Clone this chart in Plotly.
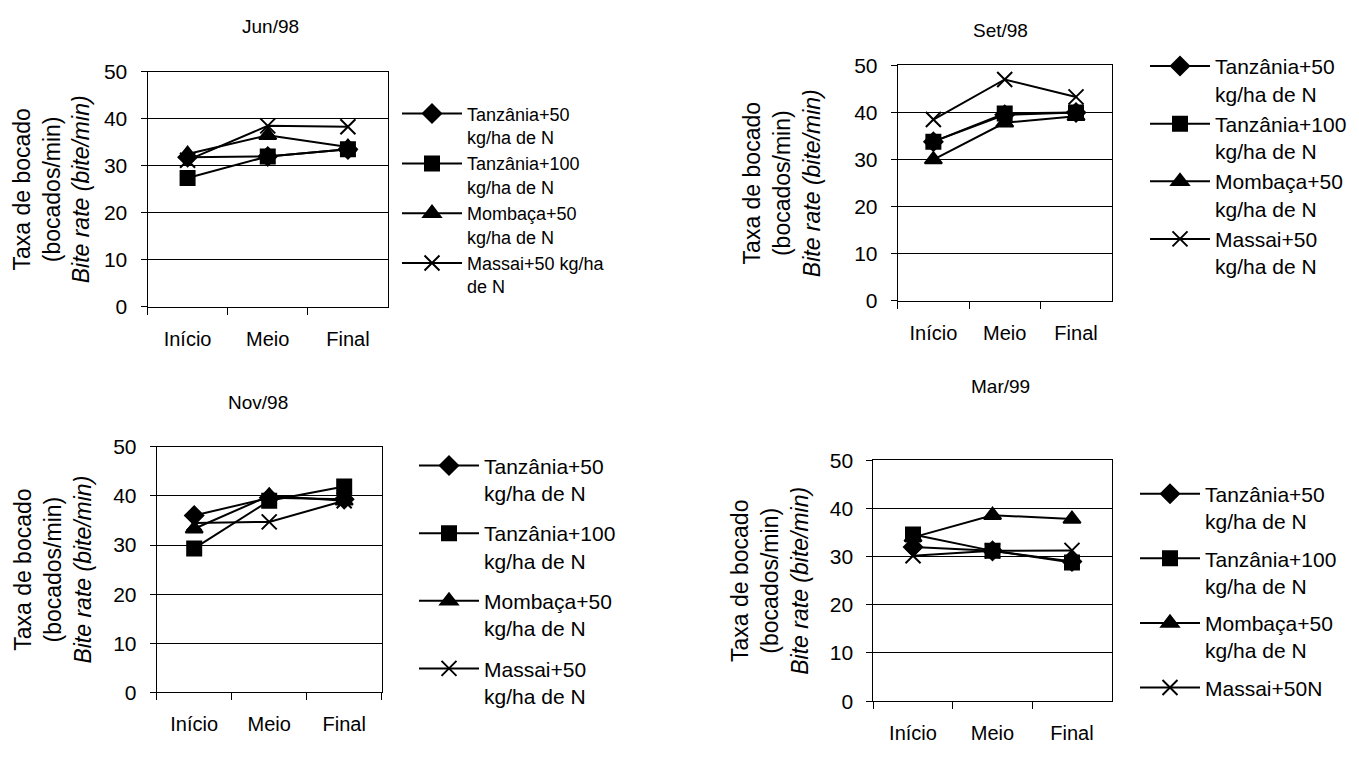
import plotly.graph_objects as go

categories = ["Início", "Meio", "Final"]
series_names = ["Tanzânia+50<br>kg/ha de N", "Tanzânia+100<br>kg/ha de N",
                "Mombaça+50<br>kg/ha de N", "Massai+50<br>kg/ha de N"]
series_names_jun = ["Tanzânia+50<br>kg/ha de N", "Tanzânia+100<br>kg/ha de N",
                    "Mombaça+50<br>kg/ha de N", "Massai+50 kg/ha<br>de N"]
series_names_mar = ["Tanzânia+50<br>kg/ha de N", "Tanzânia+100<br>kg/ha de N",
                    "Mombaça+50<br>kg/ha de N", "Massai+50N"]
panel_titles = ["Jun/98", "Set/98", "Nov/98", "Mar/99"]

jun_t50 = [31.8, 32.0, 33.5]
jun_t100 = [27.4, 32.0, 33.5]
jun_m50 = [32.5, 36.5, 34.0]
jun_ms50 = [31.2, 38.5, 38.3]

set_t50 = [33.8, 39.5, 40.0]
set_t100 = [33.8, 39.8, 40.0]
set_m50 = [30.0, 37.8, 39.2]
set_ms50 = [38.5, 47.0, 43.3]

nov_t50 = [36.0, 39.6, 39.3]
nov_t100 = [29.3, 39.0, 41.9]
nov_m50 = [33.3, 40.0, 39.0]
nov_ms50 = [34.5, 34.7, 39.0]

mar_t50 = [32.0, 31.2, 29.0]
mar_t100 = [34.6, 31.2, 28.8]
mar_m50 = [34.0, 38.6, 37.8]
mar_ms50 = [30.2, 31.2, 31.3]

y_ticks = [0, 10, 20, 30, 40, 50]

FONT = "Liberation Sans, Arial, sans-serif"
W, H = 1359, 759

def px_x(a, b):
    return [a / W, b / W]

def px_y(top, bottom):
    return [1 - bottom / H, 1 - top / H]

panels = [
    dict(data=[jun_t50, jun_t100, jun_m50, jun_ms50], names=series_names_jun,
         xd=px_x(147.5, 388), yd=px_y(61.7, 304),
         title_xy=(270, 15), ytitle_x=52,
         leg=dict(x=397, y=86, font=18, gap=0)),
    dict(data=[set_t50, set_t100, set_m50, set_ms50], names=series_names,
         xd=px_x(897.7, 1111.7), yd=px_y(55, 298),
         title_xy=(1000, 19), ytitle_x=782,
         leg=dict(x=1145, y=35, font=21, gap=0)),
    dict(data=[nov_t50, nov_t100, nov_m50, nov_ms50], names=series_names,
         xd=px_x(156.7, 381.7), yd=px_y(448.3, 701.7),
         title_xy=(258, 403), ytitle_x=53,
         leg=dict(x=414, y=447, font=21, gap=10)),
    dict(data=[mar_t50, mar_t100, mar_m50, mar_ms50], names=series_names_mar,
         xd=px_x(873.3, 1111.7), yd=px_y(462.3, 710.7),
         title_xy=(1000, 386), ytitle_x=770,
         leg=dict(x=1135, y=476, font=21, gap=7)),
]

symbols = ["diamond", "square", "triangle-up", "x-thin"]
sizes = [14, 14, 15, 15]

fig = go.Figure()
layout = dict(
    width=W, height=H,
    margin=dict(l=0, r=0, t=0, b=0),
    paper_bgcolor="white", plot_bgcolor="white",
    font=dict(family=FONT, size=20, color="black"),
    showlegend=True,
)
annotations = []

for i, p in enumerate(panels):
    n = "" if i == 0 else str(i + 1)
    legname = "legend" + n
    for j in range(4):
        fig.add_trace(go.Scatter(
            x=categories, y=p["data"][j], name=p["names"][j],
            mode="lines+markers",
            line=dict(color="black", width=2),
            marker=dict(symbol=symbols[j], size=sizes[j], color="black",
                        line=dict(color="black", width=2)),
            xaxis="x" + n, yaxis="y" + n,
            legend=legname, legendgroup="g%d_%d" % (i, j),
            hoverinfo="skip",
        ))
    layout["xaxis" + n] = dict(
        domain=p["xd"], anchor="y" + n, type="category",
        range=[-0.5, 2.5], tickson="boundaries",
        ticks="outside", ticklen=7, tickcolor="black", tickwidth=1,
        showline=True, linecolor="black", linewidth=1, mirror=True,
        showgrid=False, tickfont=dict(size=20, family=FONT),
        ticklabelstandoff=14, fixedrange=True,
    )
    layout["yaxis" + n] = dict(
        domain=p["yd"], anchor="x" + n, range=[0, 50],
        tickvals=y_ticks, ticks="outside", ticklen=6, tickcolor="black",
        showline=True, linecolor="black", linewidth=1, mirror=True,
        showgrid=True, gridcolor="black", gridwidth=1, zeroline=False,
        tickfont=dict(size=21, family=FONT), ticklabelstandoff=9,
        fixedrange=True,
    )
    lg = p["leg"]
    layout[legname] = dict(
        x=lg["x"] / W, y=1 - lg["y"] / H, xanchor="left", yanchor="top",
        xref="paper", yref="paper",
        font=dict(size=lg["font"], family=FONT, color="black"),
        bgcolor="rgba(0,0,0,0)", borderwidth=0, valign="top",
        itemwidth=60, tracegroupgap=lg["gap"], traceorder="grouped",
    )
    tx, ty = p["title_xy"]
    annotations.append(dict(
        text=panel_titles[i], x=tx / W, y=1 - ty / H, xref="paper", yref="paper",
        xanchor="center", yanchor="middle", showarrow=False,
        font=dict(size=19, family=FONT),
    ))
    annotations.append(dict(
        text="Taxa de bocado<br>(bocados/min)<br><i>Bite rate (bite/min)</i>",
        x=p["ytitle_x"] / W, y=(p["yd"][0] + p["yd"][1]) / 2,
        xref="paper", yref="paper", xanchor="center", yanchor="middle",
        textangle=-90, showarrow=False, font=dict(size=23, family=FONT),
    ))

layout["annotations"] = annotations
fig.update_layout(**layout)
fig.write_html("out.html")
